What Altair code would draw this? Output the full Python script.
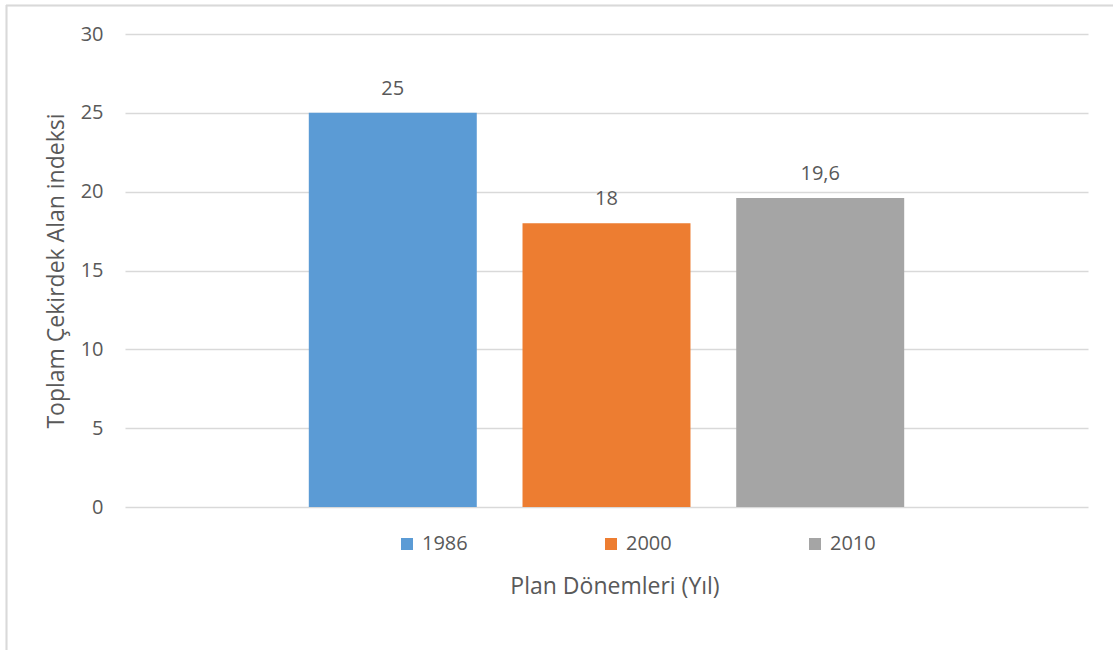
import altair as alt
import pandas as pd

# Chart values
years = ["1986", "2000", "2010"]
values = [25, 18, 19.6]
value_labels = ["25", "18", "19,6"]
colors = ["#5B9BD5", "#ED7D31", "#A5A5A5"]

df = pd.DataFrame({"Yıl": years, "Değer": values, "Etiket": value_labels})

FONT = "Open Sans"
TEXT = "#595959"
W, H = 963, 473
LEFT, TOP = 125, 34

x_enc = alt.X(
    "Yıl:N",
    scale=alt.Scale(paddingInner=0.214, paddingOuter=0.86),
    axis=alt.Axis(
        title="Plan Dönemleri (Yıl)",
        labels=False, ticks=False, domain=False,
        titlePadding=68, titleFontSize=23, titleFont=FONT,
        titleColor=TEXT, titleFontWeight="normal", titleX=W / 2 + 8,
    ),
)
y_enc = alt.Y(
    "Değer:Q",
    scale=alt.Scale(domain=[0, 30]),
    axis=alt.Axis(
        title="Toplam Çekirdek Alan indeksi",
        values=[0, 5, 10, 15, 20, 25, 30],
        ticks=False, domain=False, labelPadding=22,
        labelFontSize=20, labelFont=FONT, labelColor=TEXT,
        titleFontSize=23, titleFont=FONT, titleColor=TEXT,
        titleFontWeight="normal", titlePadding=12,
        gridColor="#D9D9D9", gridWidth=1.3,
    ),
)

bars = alt.Chart(df).mark_bar().encode(
    x=x_enc,
    y=y_enc,
    color=alt.Color(
        "Yıl:N",
        scale=alt.Scale(domain=years, range=colors),
        legend=alt.Legend(
            title=None, orient="none", direction="horizontal",
            legendX=272, legendY=500,
            symbolType="square", symbolSize=144, symbolStrokeWidth=0,
            labelFontSize=20, labelFont=FONT, labelColor=TEXT,
            columnPadding=133, labelOffset=5,
        ),
    ),
)

labels = alt.Chart(df).mark_text(
    baseline="bottom", dy=-14, fontSize=20, font=FONT, color=TEXT
).encode(x="Yıl:N", y="Değer:Q", text="Etiket:N")

# Light frame along the top and left edges
frame_top = alt.Chart(df).mark_rule(color="#D9D9D9", strokeWidth=1.5).encode(
    x=alt.value(6 - LEFT), x2=alt.value(1113 - LEFT), y=alt.value(5.5 - TOP)
)
frame_left = alt.Chart(df).mark_rule(color="#D9D9D9", strokeWidth=1.5).encode(
    x=alt.value(6.5 - LEFT), y=alt.value(5 - TOP), y2=alt.value(650 - TOP)
)

chart = (
    alt.layer(bars, labels, frame_top, frame_left)
    .properties(
        width=W, height=H,
        autosize=alt.AutoSizeParams(type="none"),
        padding={"left": LEFT, "top": TOP, "right": 1113 - LEFT - W, "bottom": 650 - TOP - H},
        background="white",
    )
    .configure_view(stroke=None)
)

chart.save("out.html", embed_options={"renderer": "svg", "actions": False})
